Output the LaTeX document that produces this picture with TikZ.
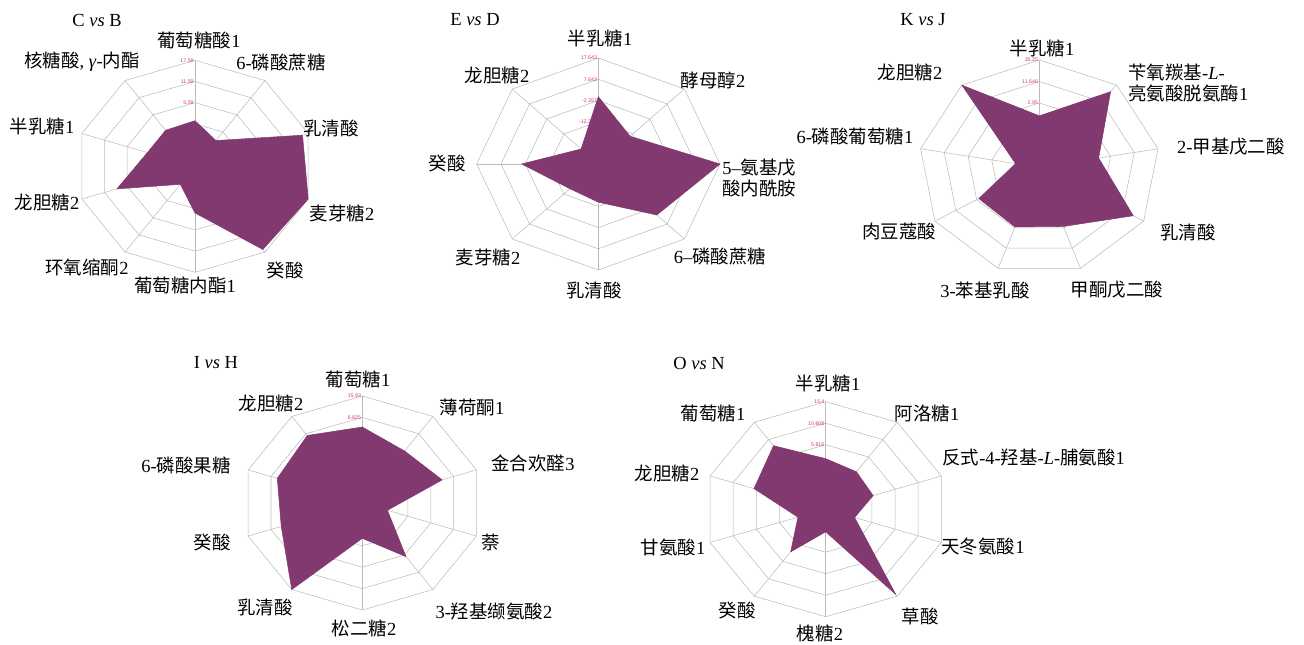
\documentclass[tikz,border=0pt]{standalone}
\usepackage{fontspec}
\setmainfont{Liberation Serif}
\newfontfamily\cjk{Noto Sans CJK SC}
\newfontfamily\tickfont{Liberation Sans}
\newcommand{\zh}[1]{{\cjk #1}}
\definecolor{radarfill}{RGB}{130,57,112}
\definecolor{webgray}{RGB}{186,186,186}
\definecolor{tickred}{RGB}{214,62,88}

% web of a radar chart: #1 = x radius, #2 = y radius, #3 = number of axes
\newcommand{\radarweb}[3]{%
  \foreach \f in {0.2,0.4,0.6,0.8,1}
    \draw[webline] (0,{-\f*#2}) \foreach \k in {1,...,#3} { -- ({\f*#1*sin(\k*360/#3)},{-\f*#2*cos(\k*360/#3)}) } -- cycle;
  \foreach \k in {1,...,#3}
    \draw[webline] (0,0) -- ({#1*sin(\k*360/#3)},{-#2*cos(\k*360/#3)});
}

\begin{document}
\begin{tikzpicture}[x=0.02cm, y=-0.02cm,
    webline/.style={draw=webgray, line width=0.3pt},
    series/.style={fill=radarfill, draw=radarfill, line width=0.3pt, line join=round},
    axislab/.style={font=\fontsize{10.5}{12.5}\selectfont, inner sep=0pt},
    charttitle/.style={font=\fontsize{10.5}{12.5}\selectfont, inner sep=0pt},
    ticklab/.style={font=\tickfont\fontsize{3}{3}\selectfont, text=tickred, inner sep=0pt, anchor=east}]
    \useasboundingbox (0,0) rectangle (1304,645);

    % C vs B
    \begin{scope}[shift={(195,166.3)}]
        \radarweb{119}{106}{10}
        \node[ticklab] (cbt1) at (-1,-106) {17.59};
        \node[ticklab] (cbt2) at (-1,-84.8) {11.59};
        \node[ticklab] (cbt3) at (-1,-63.6) {5.59};
        \fill[series] (0,{-0.43*106}) \foreach \a/\v in {36/0.30,72/0.95,108/1.0,144/0.97,180/0.44,216/0.21,252/0.69,288/0.42,324/0.42}
            { -- ({\v*119*sin(\a)},{-\v*106*cos(\a)}) } -- cycle;
    \end{scope}
    \node[charttitle] (cbtitle) at (97,20) {C \textit{vs} B};
    \node[axislab] (cb1) at (199,40) {\zh{葡萄糖酸}1};
    \node[axislab] (cb2) at (281,63) {6-\zh{磷酸蔗糖}};
    \node[axislab] (cb3) at (331,128) {\zh{乳清酸}};
    \node[axislab] (cb4) at (342,213) {\zh{麦芽糖}2};
    \node[axislab] (cb5) at (285,270) {\zh{癸酸}};
    \node[axislab] (cb6) at (185,285) {\zh{葡萄糖内酯}1};
    \node[axislab] (cb7) at (87,267) {\zh{环氧缩酮}2};
    \node[axislab] (cb8) at (47,202) {\zh{龙胆糖}2};
    \node[axislab] (cb9) at (42,126) {\zh{半乳糖}1};
    \node[axislab] (cb10) at (82,62) {\zh{核糖酸}, \textit{γ}-\zh{内酯}};

    % E vs D
    \begin{scope}[shift={(598.3,164)}]
        \radarweb{121.7}{106}{8}
        \node[ticklab] (edt1) at (-1,-106) {17.643};
        \node[ticklab] (edt2) at (-1,-84.8) {7.643};
        \node[ticklab] (edt3) at (-1,-63.6) {-2.357};
        \node[ticklab] (edt4) at (-1,-42.4) {-12.357};
        \fill[series] (0,{-0.635*106}) \foreach \a/\v in {45/0.37,90/1.0,135/0.68,180/0.36,225/0.33,270/0.63,315/0.2}
            { -- ({\v*121.7*sin(\a)},{-\v*106*cos(\a)}) } -- cycle;
    \end{scope}
    \node[charttitle] (edtitle) at (475,20) {E \textit{vs} D};
    \node[axislab] (ed1) at (600,38) {\zh{半乳糖}1};
    \node[axislab] (ed2) at (713,80) {\zh{酵母醇}2};
    \node[axislab, align=left, anchor=west] (ed3) at (722,178) {5–\zh{氨基戊}\\\zh{酸内酰胺}};
    \node[axislab] (ed4) at (720,257) {6–\zh{磷酸蔗糖}};
    \node[axislab] (ed5) at (594,290) {\zh{乳清酸}};
    \node[axislab] (ed6) at (488,257) {\zh{麦芽糖}2};
    \node[axislab] (ed7) at (447,163) {\zh{癸酸}};
    \node[axislab] (ed8) at (497,75) {\zh{龙胆糖}2};

    % K vs J
    \begin{scope}[shift={(1039.3,167.4)}]
        \radarweb{120.5}{107.4}{9}
        \node[ticklab] (kjt1) at (-1,-107.4) {35.25};
        \node[ticklab] (kjt2) at (-1,-85.9) {11.646};
        \node[ticklab] (kjt3) at (-1,-64.4) {2.95};
        \fill[series] (0,{-0.48*107.4}) \foreach \a/\v in {40/0.92,80/0.5,120/0.9,160/0.585,200/0.59,240/0.58,280/0.2,320/1.0}
            { -- ({\v*120.5*sin(\a)},{-\v*107.4*cos(\a)}) } -- cycle;
    \end{scope}
    \node[charttitle] (kjtitle) at (923,20) {K \textit{vs} J};
    \node[axislab] (kj1) at (1042,48) {\zh{半乳糖}1};
    \node[axislab, align=left, anchor=west] (kj2) at (1128,83) {\zh{苄氧羰基}-\textit{L}-\\\zh{亮氨酸脱氨酶}1};
    \node[axislab] (kj3) at (1231,147) {2-\zh{甲基戊二酸}};
    \node[axislab] (kj4) at (1188,232) {\zh{乳清酸}};
    \node[axislab] (kj5) at (1117,290) {\zh{甲酮戊二酸}};
    \node[axislab] (kj6) at (985,290) {3-\zh{苯基乳酸}};
    \node[axislab] (kj7) at (899,232) {\zh{肉豆蔻酸}};
    \node[axislab] (kj8) at (855,136) {6-\zh{磷酸葡萄糖}1};
    \node[axislab] (kj9) at (910,72) {\zh{龙胆糖}2};

    % I vs H
    \begin{scope}[shift={(362.3,503)}]
        \radarweb{120}{107}{10}
        \node[ticklab] (iht1) at (-1,-107) {15.93};
        \node[ticklab] (iht2) at (-1,-85.6) {6.825};
        \fill[series] (0,{-0.71*107}) \foreach \a/\v in {36/0.6,72/0.70,108/0.22,144/0.62,180/0.33,216/1.0,252/0.71,288/0.745,324/0.78}
            { -- ({\v*120*sin(\a)},{-\v*107*cos(\a)}) } -- cycle;
    \end{scope}
    \node[charttitle] (ihtitle) at (216,363) {I \textit{vs} H};
    \node[axislab] (ih1) at (358,379) {\zh{葡萄糖}1};
    \node[axislab] (ih2) at (472,407) {\zh{薄荷酮}1};
    \node[axislab] (ih3) at (533,463) {\zh{金合欢醛}3};
    \node[axislab] (ih4) at (491,542) {\zh{萘}};
    \node[axislab] (ih5) at (494,612) {3-\zh{羟基缬氨酸}2};
    \node[axislab] (ih6) at (364,628) {\zh{松二糖}2};
    \node[axislab] (ih7) at (265,607) {\zh{乳清酸}};
    \node[axislab] (ih8) at (212,542) {\zh{癸酸}};
    \node[axislab] (ih9) at (186,465) {6-\zh{磷酸果糖}};
    \node[axislab] (ih10) at (271,403) {\zh{龙胆糖}2};

    % O vs N
    \begin{scope}[shift={(825.7,509.2)}]
        \radarweb{121.6}{107.5}{10}
        \node[ticklab] (ont1) at (-1,-107.5) {15.4};
        \node[ticklab] (ont2) at (-1,-86) {10.608};
        \node[ticklab] (ont3) at (-1,-64.5) {5.816};
        \fill[series] (0,{-0.47*107.5}) \foreach \a/\v in {36/0.43,72/0.41,108/0.25,144/0.98,180/0.21,216/0.49,252/0.24,288/0.62,324/0.73}
            { -- ({\v*121.6*sin(\a)},{-\v*107.5*cos(\a)}) } -- cycle;
    \end{scope}
    \node[charttitle] (ontitle) at (699,363) {O \textit{vs} N};
    \node[axislab] (on1) at (828,383) {\zh{半乳糖}1};
    \node[axislab] (on2) at (927,413) {\zh{阿洛糖}1};
    \node[axislab, anchor=west] (on3) at (942,458) {\zh{反式}-4-\zh{羟基}-\textit{L}-\zh{脯氨酸}1};
    \node[axislab] (on4) at (983,547) {\zh{天冬氨酸}1};
    \node[axislab] (on5) at (920,616) {\zh{草酸}};
    \node[axislab] (on6) at (820,633) {\zh{槐糖}2};
    \node[axislab] (on7) at (737,610) {\zh{癸酸}};
    \node[axislab] (on8) at (673,547) {\zh{甘氨酸}1};
    \node[axislab] (on9) at (667,473) {\zh{龙胆糖}2};
    \node[axislab] (on10) at (713,413) {\zh{葡萄糖}1};
\end{tikzpicture}
\end{document}
